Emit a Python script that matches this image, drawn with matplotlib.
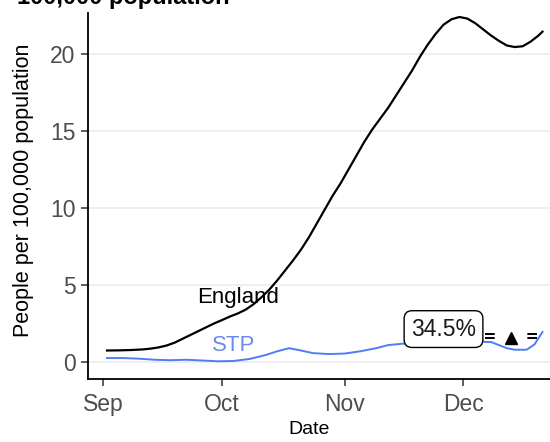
import matplotlib
matplotlib.use("Agg")
import matplotlib.pyplot as plt
import pandas as pd

plt.rcParams['font.family'] = ['Liberation Sans', 'DejaVu Sans']
plt.rcParams['lines.scale_dashes'] = False

eng_dates = ["2020-09-02", "2020-09-05", "2020-09-08", "2020-09-11", "2020-09-13", "2020-09-15",
             "2020-09-17", "2020-09-19", "2020-09-21", "2020-09-23", "2020-09-25", "2020-09-27",
             "2020-09-29", "2020-10-01", "2020-10-03", "2020-10-05", "2020-10-07", "2020-10-09",
             "2020-10-11", "2020-10-13", "2020-10-15", "2020-10-17", "2020-10-19", "2020-10-21",
             "2020-10-23", "2020-10-25", "2020-10-27", "2020-10-29", "2020-10-31", "2020-11-02",
             "2020-11-04", "2020-11-06", "2020-11-08", "2020-11-10", "2020-11-12", "2020-11-14",
             "2020-11-16", "2020-11-18", "2020-11-20", "2020-11-22", "2020-11-24", "2020-11-26",
             "2020-11-28", "2020-11-30", "2020-12-02", "2020-12-04", "2020-12-06", "2020-12-08",
             "2020-12-10", "2020-12-12", "2020-12-14", "2020-12-16", "2020-12-18", "2020-12-20",
             "2020-12-21"]
eng_values = [0.75, 0.76, 0.78, 0.82, 0.87, 0.95,
              1.07, 1.25, 1.50, 1.75, 2.00, 2.25,
              2.50, 2.72, 2.95, 3.15, 3.40, 3.75,
              4.20, 4.70, 5.30, 5.95, 6.60, 7.30,
              8.10, 9.00, 9.90, 10.80, 11.60, 12.50,
              13.40, 14.30, 15.10, 15.80, 16.50, 17.30,
              18.10, 18.90, 19.80, 20.60, 21.30, 21.90,
              22.25, 22.40, 22.30, 22.00, 21.60, 21.20,
              20.85, 20.55, 20.45, 20.50, 20.80, 21.20,
              21.45]

stp_dates = ["2020-09-02", "2020-09-06", "2020-09-10", "2020-09-14", "2020-09-18", "2020-09-22",
             "2020-09-26", "2020-09-30", "2020-10-04", "2020-10-08", "2020-10-12", "2020-10-15",
             "2020-10-18", "2020-10-21", "2020-10-24", "2020-10-28", "2020-11-01", "2020-11-05",
             "2020-11-09", "2020-11-12", "2020-11-16", "2020-11-20", "2020-11-24", "2020-11-28",
             "2020-12-02", "2020-12-05", "2020-12-08", "2020-12-10", "2020-12-12", "2020-12-14",
             "2020-12-17", "2020-12-19", "2020-12-21"]
stp_values = [0.26, 0.26, 0.22, 0.15, 0.12, 0.15,
              0.10, 0.05, 0.07, 0.20, 0.45, 0.70,
              0.90, 0.75, 0.58, 0.52, 0.55, 0.70,
              0.90, 1.10, 1.20, 1.30, 1.35, 1.35,
              1.35, 1.32, 1.30, 1.10, 0.90, 0.80,
              0.80, 1.15, 1.95]

x_ticks = ["2020-09-01", "2020-10-01", "2020-11-01", "2020-12-01"]
x_tick_labels = ["Sep", "Oct", "Nov", "Dec"]
y_ticks = [0, 5, 10, 15, 20]

label_eng = ("England", "2020-10-05", 4.2)
label_stp = ("STP", "2020-10-04", 1.1)
change_label = ("34.5%", "2020-11-26", 2.14)
marker_date = "2020-12-13"
marker_value = 1.55

eng_d = pd.to_datetime(eng_dates)
stp_d = pd.to_datetime(stp_dates)

fig = plt.figure(figsize=(5.5, 4.42), dpi=100)
ax = fig.add_axes([88/550, 63/442, 1 - 88/550, (379-13)/442])

for yv in y_ticks:
    ax.axhline(yv, color="#EBEBEB", lw=1.1, zorder=0)

ax.plot(eng_d, eng_values, color="black", lw=1.6, zorder=3, solid_joinstyle="round")
ax.plot(stp_d, stp_values, color="#4F7DF5", lw=1.4, zorder=3, solid_joinstyle="round")

ax.text(pd.Timestamp(label_eng[1]), label_eng[2], label_eng[0], fontsize=16,
        ha="center", va="center", color="black", zorder=4)
ax.text(pd.Timestamp(label_stp[1]), label_stp[2], label_stp[0], fontsize=16,
        ha="center", va="center", color="#6A8BEE", zorder=4)

md = pd.Timestamp(marker_date)
for yoff in (0.3, 0.0):
    ax.plot([md - pd.Timedelta(days=6.6), md + pd.Timedelta(days=6.6)],
            [marker_value + yoff, marker_value + yoff], color="black", lw=1.4,
            linestyle=(0, (7, 23.5, 7, 0)), zorder=5)
ax.plot([md], [marker_value], marker="^", color="black", markersize=9, zorder=6)

ax.text(pd.Timestamp(change_label[1]), change_label[2], change_label[0], fontsize=16.5,
        ha="center", va="center", color="#1a1a1a", zorder=7,
        bbox=dict(boxstyle="round,pad=0.3,rounding_size=0.35", fc="white", ec="black", lw=1.0))

ax.set_xlim(pd.Timestamp("2020-09-01") - pd.Timedelta(days=3.8),
            pd.Timestamp("2020-09-01") + pd.Timedelta(days=112.9))
ax.set_ylim(-1.1, 22.66)
ax.set_xticks(pd.to_datetime(x_ticks))
ax.set_xticklabels(x_tick_labels)
ax.set_yticks(y_ticks)

ax.spines["top"].set_visible(False)
ax.spines["right"].set_visible(False)
for s in ("left", "bottom"):
    ax.spines[s].set_linewidth(1.3)
    ax.spines[s].set_color("black")
ax.tick_params(axis="both", length=5, width=1.1, color="#333333", labelcolor="#4D4D4D",
               labelsize=16.5)
ax.tick_params(axis="x", pad=5)
ax.tick_params(axis="y", pad=4)
ax.set_xlabel("Date", fontsize=14, color="black", va="center")
ax.xaxis.set_label_coords(0.478, (379 - 430) / 366)
ax.set_ylabel("People per 100,000 population", fontsize=15.5, color="black", va="center")
ax.yaxis.set_label_coords((24 - 88) / 462, (379 - 190) / 366)

fig.text(17/550, 1 - 4/442, "Cases per\n100,000 population", fontsize=17, fontweight="bold",
         ha="left", va="baseline", color="black")

fig.savefig("out.png", dpi=100)
